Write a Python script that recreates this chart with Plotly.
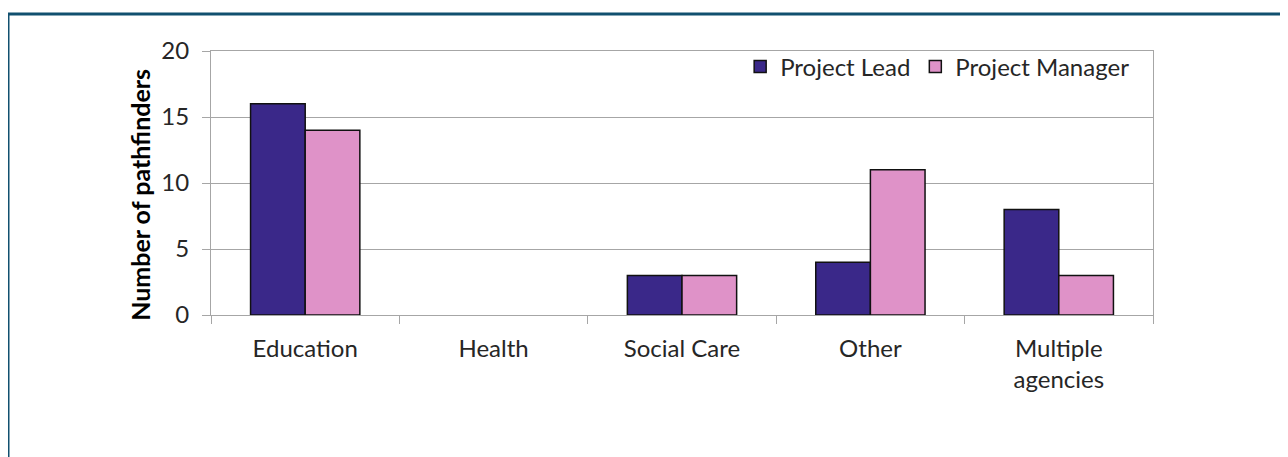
import plotly.graph_objects as go

categories = ["Education", "Health", "Social Care", "Other", "Multiple<br>agencies"]
project_lead = [16, 0, 3, 4, 8]
project_manager = [14, 0, 3, 11, 3]
y_ticks = [0, 5, 10, 15, 20]

FONT = "Lato, 'Open Sans', sans-serif"
GRID = "#a6a6a6"


def outline(vals):
    # Excel draws nothing for zero-height bars
    return [1.5 if v else 0 for v in vals]


fig = go.Figure()
fig.add_bar(x=categories, y=project_lead, name="Project Lead",
            marker=dict(color="#3a2889", line=dict(color="#111111", width=outline(project_lead))))
fig.add_bar(x=categories, y=project_manager, name="Project Manager",
            marker=dict(color="#df92c8", line=dict(color="#111111", width=outline(project_manager))))

# the page body has an 8px margin, so everything is shifted by 8px
fig.update_layout(
    width=1288, height=457,
    margin=dict(l=203, r=143, t=43, b=150),
    plot_bgcolor="white",
    paper_bgcolor="white",
    barmode="group",
    bargap=0.42,
    bargroupgap=0,
    font=dict(family=FONT, size=24, color="#262626"),
    showlegend=True,
    legend=dict(orientation="h", x=0.98, xanchor="right", y=1.025, yanchor="top",
                bgcolor="rgba(0,0,0,0)", font=dict(size=24), itemwidth=30),
)

fig.update_xaxes(
    showline=True, linecolor=GRID, linewidth=1, mirror=True,
    ticks="outside", ticklen=8, tickcolor=GRID, tickson="boundaries",
    ticklabelstandoff=12,
)
fig.update_yaxes(
    range=[0, 20], tickvals=y_ticks, showgrid=True, gridcolor=GRID, gridwidth=1,
    showline=True, linecolor=GRID, linewidth=1, mirror=True,
    ticks="outside", ticklen=8, tickcolor=GRID, zeroline=False,
    ticklabelstandoff=8,
)

# y title sits a bit below the middle of the plot in the original
fig.add_annotation(text="<b>Number of pathfinders</b>", textangle=-90,
                   xref="paper", yref="paper", x=-0.0754, y=0.455,
                   xanchor="center", yanchor="middle",
                   showarrow=False, font=dict(size=25, color="#000000"))

# outer dark-blue frame
fig.add_shape(type="rect", xref="paper", yref="paper",
              x0=(8 - 211) / 942, x1=(1295 - 211) / 942,
              y0=-0.7, y1=(315 - 14) / 264,
              line=dict(color="#11506f", width=3), layer="below")

fig.write_html("out.html")
